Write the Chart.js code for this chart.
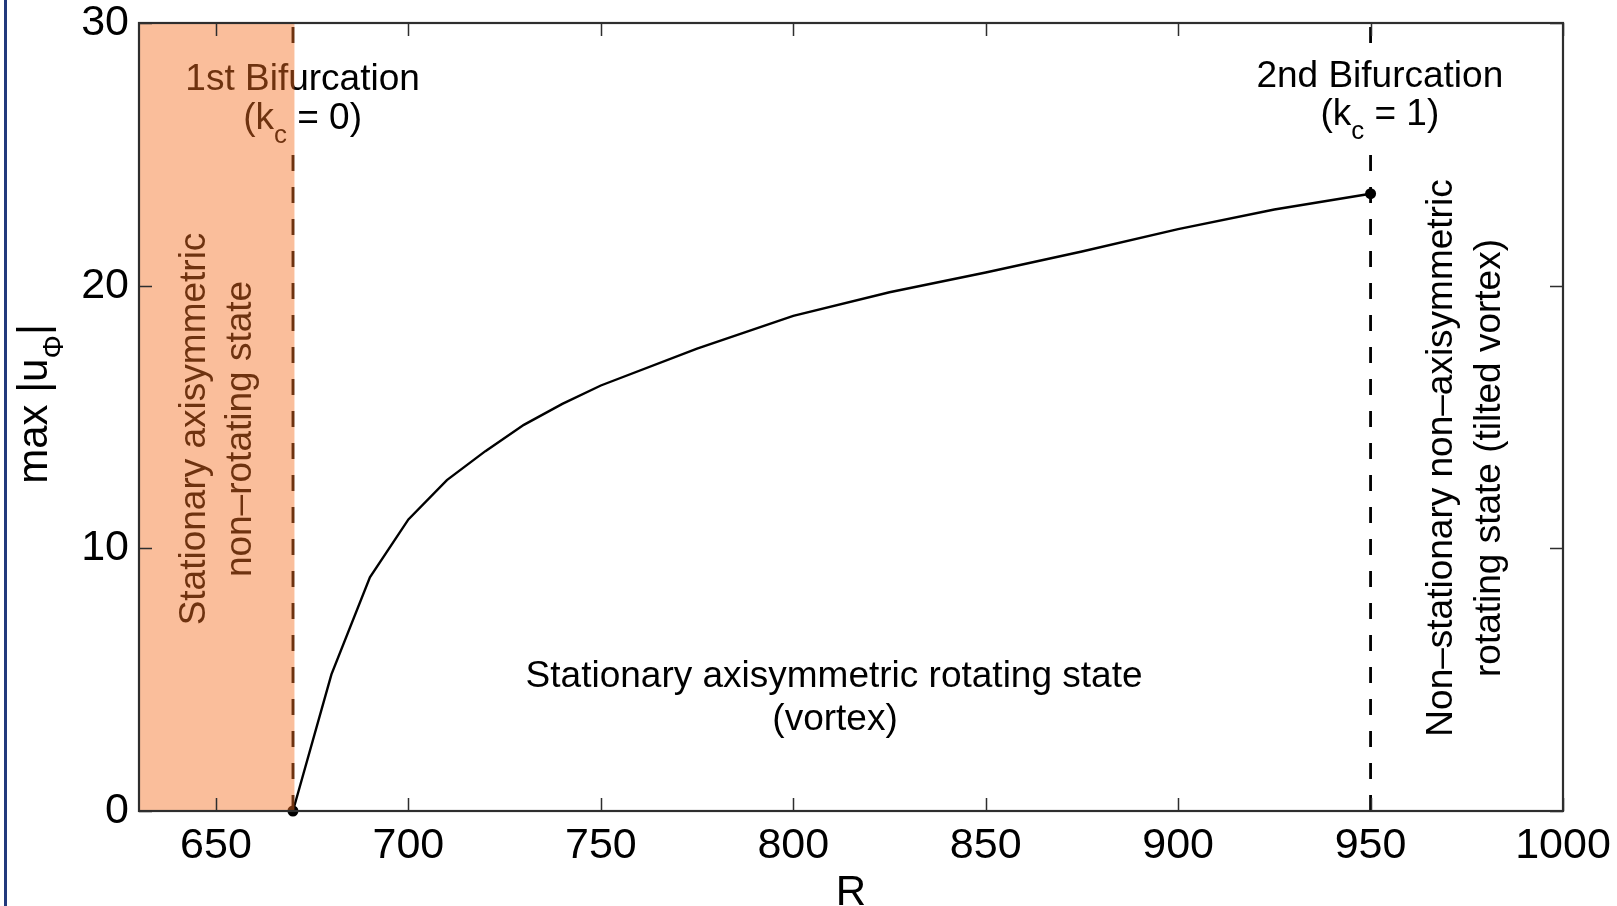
<!DOCTYPE html>
<html><head><meta charset="utf-8">
<script src="https://cdn.jsdelivr.net/npm/chart.js@4.4.1/dist/chart.umd.min.js"></script>
<style>
html,body{margin:0;padding:0;background:#fff;overflow:hidden;}
#wrap{position:relative;width:1617px;height:906px;background:#fff;}
#edge{position:absolute;left:4px;top:0;width:3px;height:906px;background:#22397c;}
canvas{position:absolute;left:0;top:0;}
</style></head><body>
<div id="wrap"><canvas id="c" width="1617" height="906"></canvas><div id="edge"></div></div>
<script>
// ---- data ----
const R_values    = [670, 680, 690, 700, 710, 720, 730, 740, 750, 775, 800, 825, 850, 875, 900, 925, 950];
const maxU_values = [0, 5.2, 8.9, 11.1, 12.6, 13.7, 14.7, 15.5, 16.2, 17.6, 18.85, 19.75, 20.5, 21.3, 22.15, 22.9, 23.5];
const xTickValues = [650, 700, 750, 800, 850, 900, 950, 1000];
const yTickValues = [0, 10, 20, 30];
const bifurcationR = [670, 950];
const shadedRange = [630, 670];
const xRange = [630, 1000];
const yRange = [0, 30];

const FONT = '"Liberation Sans", Arial, Helvetica, sans-serif';

function richWidth(ctx, parts, size) {
  return parts.map(p => { ctx.font = (p[1] ? size * 0.7 : size) + 'px ' + FONT; return ctx.measureText(p[0]).width; });
}
function drawRich(ctx, parts, x, y, size) { // centered at x, baseline y
  const w = richWidth(ctx, parts, size);
  const total = w.reduce((a, b) => a + b, 0);
  let cx = x - total / 2;
  ctx.textAlign = 'left';
  ctx.textBaseline = 'alphabetic';
  parts.forEach((p, i) => {
    ctx.font = (p[1] ? size * 0.7 : size) + 'px ' + FONT;
    ctx.fillText(p[0], cx, y + (p[1] ? size * 0.37 : 0));
    cx += w[i];
  });
}

const annotPlugin = {
  id: 'annot',
  afterDatasetsDraw(chart) {
    const ctx = chart.ctx, xs = chart.scales.x, ys = chart.scales.y, a = chart.chartArea;
    ctx.save();
    const S = 37;
    const labels = [
      {r: 672.5, y1: 90, y2: 129, l1: '1st Bifurcation', l2: [['(k', 0], ['c', 1], [' = 0)', 0]]},
      {r: 952.4, y1: 87, y2: 125, l1: '2nd Bifurcation', l2: [['(k', 0], ['c', 1], [' = 1)', 0]]}
    ];
    labels.forEach(L => {
      const cx = xs.getPixelForValue(L.r);
      ctx.font = S + 'px ' + FONT;
      const w = ctx.measureText(L.l1).width;
      ctx.fillStyle = '#fff';
      ctx.fillRect(cx - w / 2 - 6, L.y1 - 34, w + 12, L.y2 - L.y1 + 58);
      ctx.fillStyle = '#000';
      ctx.textAlign = 'center'; ctx.textBaseline = 'alphabetic';
      ctx.fillText(L.l1, cx, L.y1);
      drawRich(ctx, L.l2, cx, L.y2, S);
    });
    ctx.font = S + 'px ' + FONT;
    ctx.textAlign = 'center'; ctx.textBaseline = 'middle';
    const mx = xs.getPixelForValue(810.6);
    ctx.fillText('Stationary axisymmetric rotating state', mx, 677);
    ctx.fillText('(vortex)', mx + 1, 720);
    function rot(lines, cx0, cy, gap) {
      ctx.save();
      ctx.translate(cx0, cy);
      ctx.rotate(-Math.PI / 2);
      ctx.textAlign = 'center'; ctx.textBaseline = 'middle';
      lines.forEach((t, i) => ctx.fillText(t, 0, i * gap));
      ctx.restore();
    }
    rot(['Stationary axisymmetric', 'non\u2013rotating state'], 195, 429, 46);
    rot(['Non\u2013stationary non\u2013axisymmetric', 'rotating state (tilted vortex)'], 1442, 458, 48);
    ctx.save();
    ctx.translate(47, 404);
    ctx.rotate(-Math.PI / 2);
    drawRich(ctx, [['max |u', 0], ['\u03A6', 1], ['|', 0]], 0, 0, 42);
    ctx.restore();
    const x0 = xs.getPixelForValue(shadedRange[0]), x1 = xs.getPixelForValue(shadedRange[1]);
    ctx.fillStyle = 'rgba(244,111,33,0.45)';
    ctx.fillRect(x0, a.top, x1 - x0 + 1.5, a.bottom - a.top);
    ctx.restore();
  },
  afterDraw(chart) {
    const ctx = chart.ctx, xs = chart.scales.x, ys = chart.scales.y, a = chart.chartArea;
    ctx.save();
    ctx.strokeStyle = '#2e2e2e';
    ctx.lineWidth = 2.2;
    ctx.strokeRect(a.left, a.top, a.right - a.left, a.bottom - a.top);
    const T = 13;
    ctx.lineWidth = 1.5;
    ctx.beginPath();
    xTickValues.forEach(v => {
      const px = Math.round(xs.getPixelForValue(v)) + 0.5;
      ctx.moveTo(px, a.bottom); ctx.lineTo(px, a.bottom - T);
      ctx.moveTo(px, a.top); ctx.lineTo(px, a.top + T);
    });
    yTickValues.forEach(v => {
      const py = Math.round(ys.getPixelForValue(v)) + 0.5;
      ctx.moveTo(a.left, py); ctx.lineTo(a.left + T, py);
      ctx.moveTo(a.right, py); ctx.lineTo(a.right - T, py);
    });
    ctx.stroke();
    ctx.restore();
  }
};

const curve = R_values.map((r, i) => ({x: r, y: maxU_values[i]}));
const lastIdx = R_values.length - 1;
const noPad = s => { s.paddingTop = 0; s.paddingBottom = 0; s.paddingLeft = 0; s.paddingRight = 0; };

new Chart(document.getElementById('c'), {
  type: 'line',
  data: {
    datasets: [
      {data: curve, borderColor: '#000', borderWidth: 2.4, tension: 0, clip: false, order: 1,
       pointRadius: c => (c.dataIndex === 0 || c.dataIndex === lastIdx) ? 5.5 : 0,
       pointBackgroundColor: '#000', pointBorderWidth: 0, pointHoverRadius: 0},
      ...bifurcationR.map(r => ({data: [{x: r, y: yRange[0]}, {x: r, y: yRange[1]}],
        borderColor: '#000', borderWidth: 2.8, borderDash: [16, 16], pointRadius: 0, order: 2}))
    ]
  },
  options: {
    responsive: false, animation: false, devicePixelRatio: 1,
    layout: {padding: {left: 0, top: 23, right: 54, bottom: 0}},
    plugins: {legend: {display: false}, tooltip: {enabled: false}},
    events: [],
    scales: {
      x: {type: 'linear', min: xRange[0], max: xRange[1],
          afterBuildTicks: s => { s.ticks = xTickValues.map(v => ({value: v})); },
          afterFit: s => { s.height = 95; noPad(s); },
          grid: {display: false, drawTicks: false}, border: {display: false},
          ticks: {font: {family: FONT, size: 43}, color: '#000', padding: 9, maxRotation: 0, autoSkip: false,
                  callback: v => String(v)},
          title: {display: true, text: 'R', color: '#000', font: {family: FONT, size: 42, lineHeight: 0.6}, padding: 0}},
      y: {type: 'linear', min: yRange[0], max: yRange[1],
          afterBuildTicks: s => { s.ticks = yTickValues.map(v => ({value: v})); },
          afterFit: s => { s.width = 139; noPad(s); },
          grid: {display: false, drawTicks: false}, border: {display: false},
          ticks: {font: {family: FONT, size: 43}, color: '#000', padding: 10, callback: v => String(v)}}
    }
  },
  plugins: [annotPlugin]
});
</script>
</body></html>
